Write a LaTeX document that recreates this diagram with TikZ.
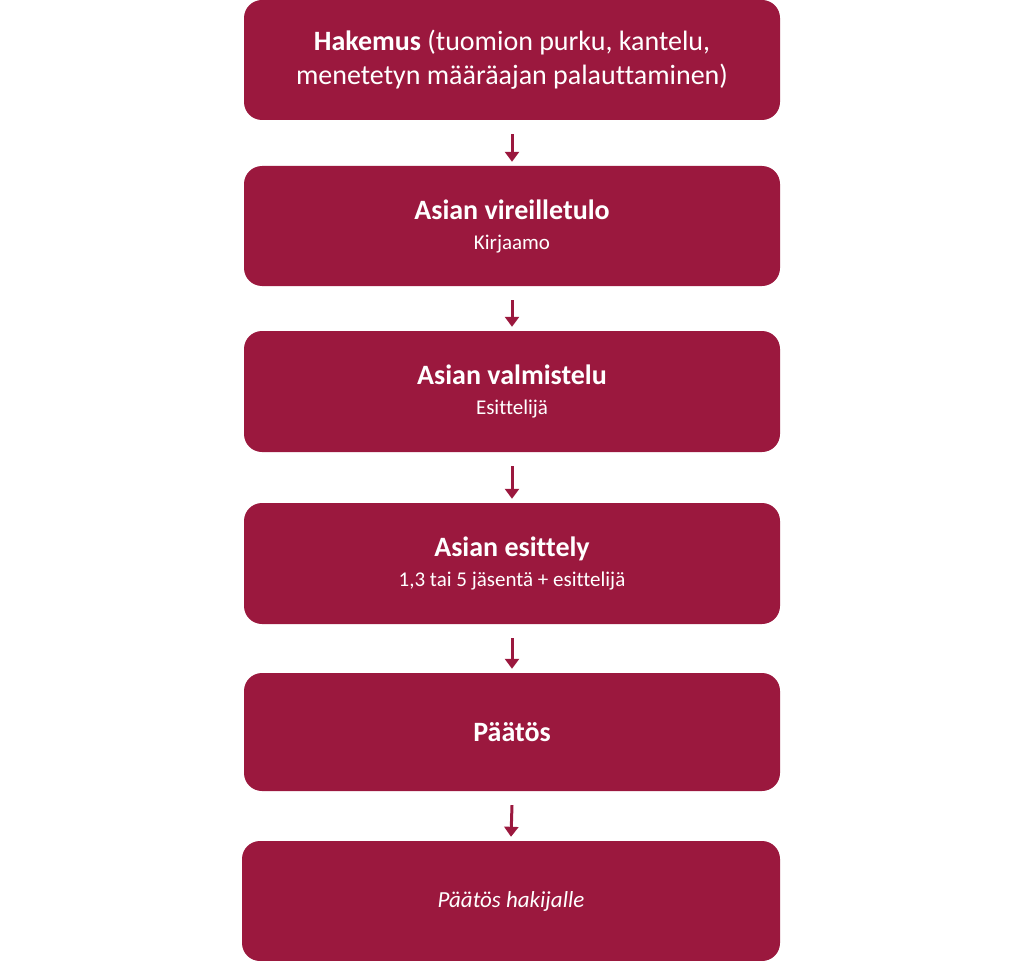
\documentclass[tikz,border=0pt]{standalone}
\usepackage{fontspec}
\setmainfont{Carlito}[Ligatures=NoCommon]
\usetikzlibrary{arrows.meta}
\definecolor{wine}{HTML}{9B183E}
\newcommand{\ttl}[1]{{\fontsize{28}{34}\selectfont\textbf{#1}}}
\newcommand{\sbt}[1]{{\fontsize{21}{26}\selectfont #1}}
\begin{document}
\begin{tikzpicture}[x=1pt,y=-1pt,
  box/.style={fill=wine,rounded corners=18pt,text=white,align=center,minimum width=536pt,inner sep=0pt,font=\fontsize{28}{34}\selectfont},
  conn/.style={wine,line width=3pt,-{Triangle[length=10pt,width=14pt]}}]
\useasboundingbox (0,0) rectangle (1024,960);
\node[box,minimum height=120pt] (b1) at (512,60) {\textbf{Hakemus} (tuomion purku, kantelu,\\ menetetyn määräajan palauttaminen)};
\node[box,minimum height=120pt] (b2) at (512,226) {\ttl{Asian vireilletulo}\\[-4pt]\sbt{Kirjaamo}};
\node[box,minimum height=121pt] (b3) at (512,391.5) {\ttl{Asian valmistelu}\\[-4pt]\sbt{Esittelijä}};
\node[box,minimum height=121pt] (b4) at (512,563.5) {\ttl{Asian esittely}\\[-4pt]\sbt{1,3 tai 5 jäsentä + esittelijä}};
\node[box,minimum height=118pt] (b5) at (512,732) {\ttl{Päätös}};
\node[box,minimum height=120pt,minimum width=538pt] (b6) at (511,901) {\fontsize{23}{28}\selectfont\textit{Päätös hakijalle}};
\foreach \a/\b in {b1/b2,b2/b3,b3/b4,b4/b5,b5/b6}
  \draw[conn] ([yshift=-14pt]\a.south) -- ([yshift=4pt]\b.north);
\end{tikzpicture}
\end{document}
